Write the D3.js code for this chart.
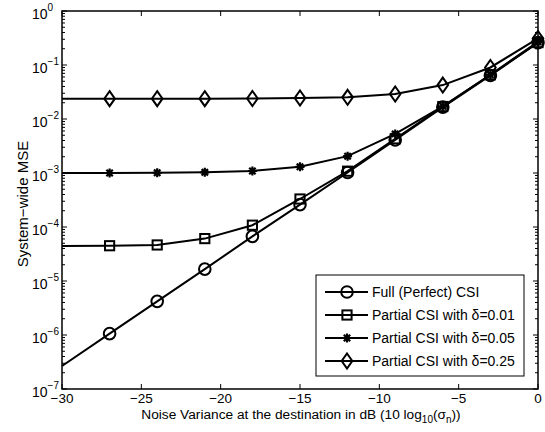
<!DOCTYPE html>
<html lang="en">
<head>
<meta charset="UTF-8">
<title>System-wide MSE</title>
<style>
    body { margin: 0; background: #fff; }
    svg text { font-family: "Liberation Sans", Arial, sans-serif; fill: #000; }
</style>
</head>
<body>
<svg width="545" height="432"></svg>
<script src="https://cdn.jsdelivr.net/npm/d3@7"></script>
<script>
    // noise variance in dB (first point has no marker)
    var noiseDb = [-30, -27, -24, -21, -18, -15, -12, -9, -6, -3, 0];

    var fullCsi   = [2.67e-7, 1.06e-6, 4.2e-6, 1.66e-5, 6.7e-5, 2.6e-4, 1.02e-3, 4.1e-3, 1.66e-2, 6.4e-2, 0.26];
    var delta001  = [4.45e-5, 4.5e-5, 4.65e-5, 6.1e-5, 1.08e-4, 3.3e-4, 1.08e-3, 4.3e-3, 1.7e-2, 6.6e-2, 0.26];
    var delta005  = [1.0e-3, 1.0e-3, 1.01e-3, 1.03e-3, 1.09e-3, 1.3e-3, 2.05e-3, 5.3e-3, 1.72e-2, 6.6e-2, 0.27];
    var delta025  = [2.38e-2, 2.38e-2, 2.38e-2, 2.38e-2, 2.4e-2, 2.45e-2, 2.52e-2, 2.9e-2, 4.25e-2, 9.0e-2, 0.31];

    var seriesNames = ["Full (Perfect) CSI", "Partial CSI with \u03b4=0.01",
                       "Partial CSI with \u03b4=0.05", "Partial CSI with \u03b4=0.25"];
    var markerKinds = ["circle", "square", "star", "diamond"];

    var xTicks = [-30, -25, -20, -15, -10, -5, 0];
    var yExps = [0, -1, -2, -3, -4, -5, -6, -7];

    var svg = d3.select("svg"),
        margin = {top: 11, right: 5, bottom: 43, left: 62},
        width = 545 - margin.left - margin.right,
        height = 432 - margin.top - margin.bottom,
        g = svg.append("g").attr("transform", "translate(" + margin.left + "," + margin.top + ")");

    var x = d3.scaleLinear().domain([-30, 0]).range([0, width - 2]);
    var y = d3.scaleLog().domain([1e-7, 1]).range([height, 0]);

    // minor ticks for the log axis
    var minor = [];
    yExps.slice(0, -1).forEach(function (e) {
        for (var k = 2; k <= 9; k++) minor.push(k * Math.pow(10, e - 1));
    });

    var ticks = g.append("g").attr("stroke", "#000").attr("stroke-width", 1);
    minor.forEach(function (v) {
        ticks.append("line").attr("x1", 0).attr("x2", 3).attr("y1", y(v)).attr("y2", y(v));
        ticks.append("line").attr("x1", x(0)).attr("x2", x(0) - 3).attr("y1", y(v)).attr("y2", y(v));
    });
    yExps.forEach(function (e) {
        var v = Math.pow(10, e);
        ticks.append("line").attr("x1", 0).attr("x2", 5).attr("y1", y(v)).attr("y2", y(v));
        ticks.append("line").attr("x1", x(0)).attr("x2", x(0) - 5).attr("y1", y(v)).attr("y2", y(v));
    });
    xTicks.forEach(function (t) {
        ticks.append("line").attr("x1", x(t)).attr("x2", x(t)).attr("y1", height).attr("y2", height - 5);
        ticks.append("line").attr("x1", x(t)).attr("x2", x(t)).attr("y1", 0).attr("y2", 5);
    });

    // frame
    g.append("rect").attr("x", 0).attr("y", 0).attr("width", x(0)).attr("height", height)
        .attr("fill", "none").attr("stroke", "#000").attr("stroke-width", 1.5);

    // tick labels
    g.selectAll(".xl").data(xTicks).enter().append("text")
        .attr("x", function (d) { return x(d); })
        .attr("y", height + 14)
        .attr("text-anchor", "middle")
        .style("font-size", "13.5px")
        .text(function (d) { return d < 0 ? "\u2212" + (-d) : d; });

    var yl = g.selectAll(".yl").data(yExps).enter().append("text")
        .attr("x", -30)
        .attr("y", function (d) { return y(Math.pow(10, d)) + 7.5; })
        .attr("text-anchor", "start")
        .style("font-size", "14px");
    yl.append("tspan").text("10");
    yl.append("tspan").attr("dy", -8).style("font-size", "10px")
        .text(function (d) { return d < 0 ? "\u2212" + (-d) : d; });

    // axis titles
    var xt = g.append("text").attr("x", x(-15) + 1).attr("y", height + 30)
        .attr("text-anchor", "middle").style("font-size", "13.7px");
    xt.append("tspan").text("Noise Variance at the destination in dB (10 log");
    xt.append("tspan").attr("dy", 4).style("font-size", "10px").text("10");
    xt.append("tspan").attr("dy", -4).text("(\u03c3");
    xt.append("tspan").attr("dy", 4).style("font-size", "10px").text("n");
    xt.append("tspan").attr("dy", -4).text("))");

    svg.append("text")
        .attr("transform", "translate(28,204) rotate(-90)")
        .attr("text-anchor", "middle").style("font-size", "15px")
        .text("System\u2212wide MSE");

    function drawMarker(sel, kind) {
        if (kind === "circle") {
            sel.append("circle").attr("r", 5.8).attr("fill", "none").attr("stroke", "#000").attr("stroke-width", 2);
        } else if (kind === "square") {
            sel.append("rect").attr("x", -4.6).attr("y", -4.6).attr("width", 9.2).attr("height", 9.2)
                .attr("fill", "none").attr("stroke", "#000").attr("stroke-width", 2);
        } else if (kind === "diamond") {
            sel.append("path").attr("d", "M0,-7.5L5.3,0L0,7.5L-5.3,0Z")
                .attr("fill", "none").attr("stroke", "#000").attr("stroke-width", 2);
        } else {
            sel.append("path").attr("d", "M-4.5,0H4.5M0,-4.5V4.5M-3.2,-3.2L3.2,3.2M-3.2,3.2L3.2,-3.2")
                .attr("stroke", "#000").attr("stroke-width", 2.2);
        }
    }

    var allSeries = [fullCsi, delta001, delta005, delta025];
    var line = d3.line()
        .x(function (d, i) { return x(noiseDb[i]); })
        .y(function (d) { return y(d); });

    allSeries.forEach(function (vals, s) {
        g.append("path").datum(vals).attr("d", line)
            .attr("fill", "none").attr("stroke", "#000").attr("stroke-width", 2);
        vals.forEach(function (v, i) {
            if (i === 0) return;
            var m = g.append("g").attr("transform", "translate(" + x(noiseDb[i]) + "," + y(v) + ")");
            drawMarker(m, markerKinds[s]);
        });
    });

    // legend
    var lg = svg.append("g").attr("transform", "translate(316,275)");
    lg.append("rect").attr("width", 208).attr("height", 101)
        .attr("fill", "#fff").attr("stroke", "#000").attr("stroke-width", 1);
    seriesNames.forEach(function (name, i) {
        var row = lg.append("g").attr("transform", "translate(0," + (17 + i * 23) + ")");
        row.append("line").attr("x1", 9).attr("x2", 52).attr("stroke", "#000").attr("stroke-width", 2);
        var m = row.append("g").attr("transform", "translate(31,0)");
        drawMarker(m, markerKinds[i]);
        row.append("text").attr("x", 56).attr("y", 5).style("font-size", "14px").text(name);
    });
</script>
</body>
</html>
